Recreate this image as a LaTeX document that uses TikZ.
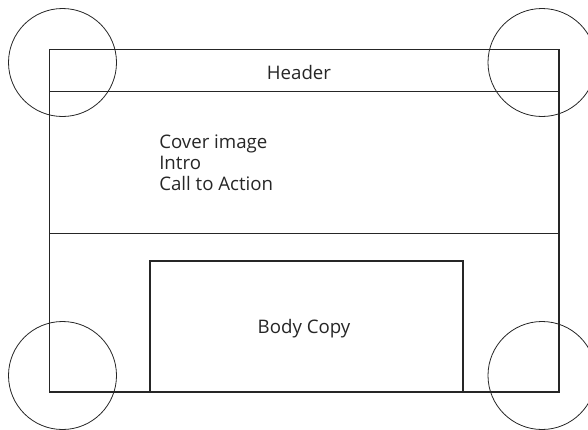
\documentclass[tikz,border=0pt]{standalone}
\usepackage{fontspec}
\setmainfont{Open Sans}
\tikzset{
	frame/.style={draw=black!85, line width=0.8pt},
	rule/.style={draw=black!85, line width=1.3pt},
	corner/.style={draw=black!85, line width=0.6pt, circle, minimum size=81pt, inner sep=0pt},
	label/.style={font=\fontsize{14}{15.75}\selectfont, text=black!85, inner sep=0pt}
}
\begin{document}
\begin{tikzpicture}[x=0.75pt, y=-0.75pt]
		\useasboundingbox (0,0) rectangle (588,429);
		% page outline and section rules
		\draw[frame] (49.5,49.5) rectangle (559,392);
		\draw[rule] (49.5,91.5) -- (559,91.5);
		\draw[rule] (49.5,233.5) -- (559,233.5);
		\draw[frame] (150,392) |- (463,261) -- (463,392);
		\draw
		node[label, anchor=base] at (299,79) (header) {Header}
		node[label, anchor=base west, align=left] at (159,190) (cover) {Cover image\\Intro\\Call to Action}
		node[label, anchor=base] at (304,333) (body) {Body Copy}
		node[corner] at (62.5,62.5) (tl) {}
		node[corner] at (542,62.5) (tr) {}
		node[corner] at (62.5,375.5) (bl) {}
		node[corner] at (542,375.5) (br) {};
	\end{tikzpicture}
\end{document}
